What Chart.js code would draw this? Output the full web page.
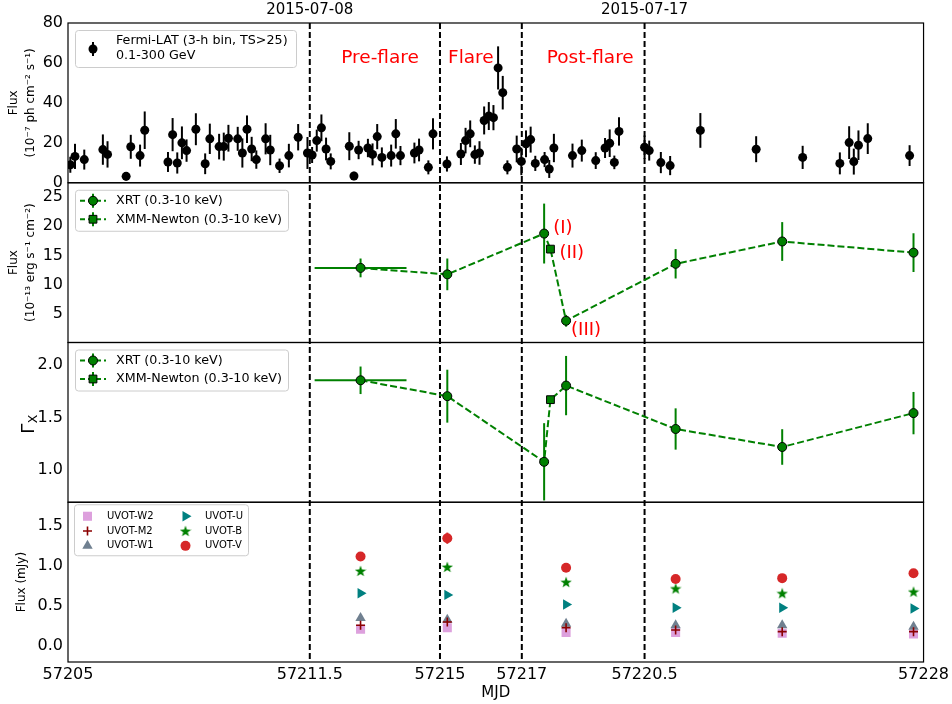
<!DOCTYPE html>
<html>
<head>
<meta charset="utf-8">
<title>Multi-band light curves</title>
<script src="https://cdn.jsdelivr.net/npm/chart.js@4.4.0/dist/chart.umd.min.js"></script>
<style>
  html, body { margin: 0; padding: 0; background: #fff; }
</style>
</head>
<body>
<canvas id="lc" width="952" height="704"></canvas>
<script>
// ---- Fermi-LAT 3-h binned light curve (1e-7 ph cm^-2 s^-1) ----
const fermiMjd = [
  57205.0625, 57205.1875, 57205.4375, 57205.9375, 57206.0625, 57206.5625, 57206.6875, 57206.9375,
  57207.0625, 57207.6875, 57207.8125, 57207.9375, 57208.0625, 57208.1875, 57208.4375, 57208.6875,
  57208.8125, 57209.0625, 57209.1875, 57209.3125, 57209.5625, 57209.6875, 57209.8125, 57209.9375,
  57210.0625, 57210.3125, 57210.4375, 57210.6875, 57210.9375, 57211.1875, 57211.4375, 57211.5625,
  57211.6875, 57211.8125, 57211.9375, 57212.0625, 57212.5625, 57212.6875, 57212.8125, 57213.0625,
  57213.1875, 57213.3125, 57213.4375, 57213.6875, 57213.8125, 57213.9375, 57214.3125, 57214.4375,
  57214.6875, 57214.8125, 57215.1875, 57215.5625, 57215.6875, 57215.8125, 57215.9375, 57216.0625,
  57216.1875, 57216.3125, 57216.4375, 57216.5625, 57216.6875, 57216.8125, 57217.0625, 57217.1875,
  57217.3125, 57217.4375, 57217.5625, 57217.8125, 57217.9375, 57218.0625, 57218.5625, 57218.8125,
  57219.1875, 57219.4375, 57219.5625, 57219.6875, 57219.8125, 57220.5, 57220.625, 57220.9375,
  57221.1875, 57222.0, 57223.5, 57224.75, 57225.75, 57226.0, 57226.125, 57226.25,
  57226.5, 57227.625
];
const fermiFlux = [
  9.0, 13.2, 11.6, 16.6, 14.2, 3.2, 18.0, 13.6,
  26.3, 10.4, 24.1, 9.9, 20.0, 16.1, 26.8, 9.5,
  22.0, 18.1, 18.1, 22.3, 22.0, 14.9, 26.8, 16.9,
  11.6, 22.0, 16.4, 8.5, 13.6, 22.8, 14.9, 13.9,
  21.1, 27.5, 16.9, 10.7, 18.3, 3.4, 16.4, 17.4,
  14.2, 23.1, 12.7, 13.6, 24.5, 13.6, 14.9, 16.4,
  7.7, 24.5, 9.4, 14.4, 21.1, 24.5, 14.1, 14.9,
  31.2, 33.4, 32.6, 57.5, 45.1, 7.7, 16.9, 10.7,
  19.5, 21.6, 9.7, 11.6, 6.9, 17.4, 13.6, 16.1,
  11.1, 17.4, 19.8, 10.2, 25.7, 17.8, 16.1, 10.1,
  8.6, 26.2, 16.8, 12.7, 9.7, 20.1, 10.6, 18.8,
  22.1, 13.6
];
const fermiErr = [
  4.0, 6.3, 5.0, 7.6, 6.6, 2.1, 6.0, 5.5,
  9.4, 5.0, 8.3, 5.3, 8.2, 5.6, 8.0, 5.2,
  7.6, 6.4, 7.0, 6.7, 6.0, 7.3, 6.9, 6.1,
  4.6, 7.8, 7.6, 3.6, 5.9, 6.6, 8.0, 4.0,
  5.5, 6.7, 5.7, 4.0, 7.0, 2.1, 4.6, 4.6,
  5.5, 6.3, 5.0, 5.5, 7.4, 4.8, 5.2, 5.7,
  3.5, 7.8, 3.8, 5.5, 6.4, 6.7, 4.6, 5.9,
  7.0, 7.0, 6.3, 10.8, 8.4, 3.5, 6.7, 6.9,
  6.7, 6.5, 3.8, 3.8, 4.5, 7.1, 6.0, 5.5,
  4.2, 5.0, 6.9, 3.4, 7.1, 5.9, 5.0, 5.3,
  4.8, 8.7, 6.5, 5.8, 5.5, 8.2, 6.5, 7.4,
  7.7, 5.2
];

// ---- Swift-XRT and XMM-Newton (0.3-10 keV) ----
const xrtMjd      = [57212.865, 57215.197, 57217.80, 57218.39, 57221.335, 57224.20, 57227.73];
const xrtMjdErr   = [1.235, 0, 0, 0, 0, 0, 0];
const xrtFlux     = [12.9, 11.8, 18.75, 3.9, 13.6, 17.4, 15.5];   // 1e-13 erg s^-1 cm^-2
const xrtFluxErr  = [1.6, 2.7, 5.1, 1.0, 2.5, 3.3, 3.3];
const xrtGamma    = [1.85, 1.70, 1.08, 1.80, 1.39, 1.22, 1.54];
const xrtGammaErr = [0.13, 0.25, 0.365, 0.28, 0.195, 0.168, 0.2];
const xmmMjd      = [57217.97];
const xmmFlux     = [16.1];
const xmmGamma    = [1.667];

// ---- Swift-UVOT (mJy) ----
const uvotMjd = [57212.865, 57215.197, 57218.39, 57221.335, 57224.20, 57227.73];
const uvotW2  = [0.21, 0.23, 0.17, 0.17, 0.16, 0.15];
const uvotM2  = [0.26, 0.30, 0.23, 0.20, 0.18, 0.18];
const uvotW1  = [0.35, 0.33, 0.28, 0.26, 0.26, 0.24];
const uvotU   = [0.66, 0.64, 0.52, 0.48, 0.48, 0.47];
const uvotB   = [0.94, 0.99, 0.80, 0.72, 0.66, 0.68];
const uvotV   = [1.12, 1.35, 0.98, 0.84, 0.85, 0.91];
const uvotVErr = [0.03, 0.07, 0.03, 0.02, 0.02, 0.02];

// ---- axes / phases ----
const phaseEdges = [57211.5, 57215, 57217.2, 57220.5];
const mjdTicks   = [57205, 57211.5, 57215, 57217.2, 57220.5, 57228];
const mjdLabels  = ['57205', '57211.5', '57215', '57217', '57220.5', '57228'];
const dateTicks  = [57211.5, 57220.5];
const dateLabels = ['2015-07-08', '2015-07-17'];
const phaseNames = ['Pre-flare', 'Flare', 'Post-flare'];
const phaseMid   = [57213.39, 57215.83, 57219.04];
const stateNames = ['(I)', '(II)', '(III)'];

const FONT = 'DejaVu Sans';
Chart.defaults.font.family = FONT;
Chart.defaults.color = '#000';

const pts = (xs, ys) => xs.map((x, i) => ({ x: x, y: ys[i] }));
const byTime = (a, b) => a.x - b.x;

// filled five-point star used for UVOT-B
function starMarker(size, color) {
  const c = document.createElement('canvas');
  c.width = c.height = size;
  const g = c.getContext('2d');
  g.fillStyle = color;
  g.beginPath();
  for (let k = 0; k < 10; k++) {
    const r = k % 2 ? size * 0.2 : size / 2;
    const a = -Math.PI / 2 + k * Math.PI / 5;
    g.lineTo(size / 2 + r * Math.cos(a), size / 2 + r * Math.sin(a) + size * 0.04);
  }
  g.closePath();
  g.fill();
  return c;
}
const starB = starMarker(12, '#008000');

function yAxis(min, max, ticks, digits, title, titleSize, titlePad) {
  return {
    type: 'linear', position: 'left', stack: 'panels', min: min, max: max,
    grid: { display: false, drawTicks: false },
    border: { display: false },
    ticks: { font: { size: 16 }, padding: 5, autoSkip: false, callback: v => v.toFixed(digits) },
    afterBuildTicks: s => { s.ticks = ticks.map(v => ({ value: v })); },
    afterFit: s => { s.width = 68; },
    title: { display: !!title, text: title, font: { size: titleSize, lineHeight: 1.4 }, padding: { top: titlePad, bottom: 0 } }
  };
}

// vertical phase boundaries
const phaseLines = {
  id: 'phaseLines',
  beforeDatasetsDraw(chart) {
    const { ctx, chartArea, scales } = chart;
    ctx.save();
    ctx.strokeStyle = '#000';
    ctx.lineWidth = 2;
    ctx.setLineDash([6, 3]);
    phaseEdges.forEach(m => {
      const px = scales.x.getPixelForValue(m);
      ctx.beginPath();
      ctx.moveTo(px, chartArea.top);
      ctx.lineTo(px, chartArea.bottom);
      ctx.stroke();
    });
    ctx.restore();
  }
};

// error bars from the errY / errX arrays on each dataset
const errorBars = {
  id: 'errorBars',
  beforeDatasetsDraw(chart) {
    const ctx = chart.ctx;
    const xs = chart.scales.x;
    chart.data.datasets.forEach(ds => {
      if (!ds.errY && !ds.errX) return;
      const ys = chart.scales[ds.yAxisID];
      ctx.save();
      ctx.strokeStyle = ds.errColor;
      ctx.lineWidth = 2;
      ds.data.forEach((p, j) => {
        const px = xs.getPixelForValue(p.x);
        const py = ys.getPixelForValue(p.y);
        if (ds.errY && ds.errY[j]) {
          ctx.beginPath();
          ctx.moveTo(px, ys.getPixelForValue(p.y - ds.errY[j]));
          ctx.lineTo(px, ys.getPixelForValue(p.y + ds.errY[j]));
          ctx.stroke();
        }
        if (ds.errX && ds.errX[j]) {
          ctx.beginPath();
          ctx.moveTo(xs.getPixelForValue(p.x - ds.errX[j]), py);
          ctx.lineTo(xs.getPixelForValue(p.x + ds.errX[j]), py);
          ctx.stroke();
        }
      });
      ctx.restore();
    });
  }
};

function legendBox(ctx, x, y, w, h) {
  ctx.save();
  ctx.beginPath();
  ctx.roundRect(x + 0.5, y + 0.5, w, h, 3);
  ctx.fillStyle = 'rgba(255,255,255,0.8)';
  ctx.fill();
  ctx.strokeStyle = '#cccccc';
  ctx.lineWidth = 1;
  ctx.stroke();
  ctx.restore();
}

function xrayHandle(ctx, x, y, style, radius) {
  ctx.save();
  ctx.strokeStyle = '#008000';
  ctx.lineWidth = 2;
  ctx.setLineDash([5, 3]);
  ctx.beginPath(); ctx.moveTo(x - 13, y); ctx.lineTo(x + 13, y); ctx.stroke();
  ctx.setLineDash([]);
  ctx.beginPath(); ctx.moveTo(x, y - 7); ctx.lineTo(x, y + 7); ctx.stroke();
  ctx.fillStyle = '#008000';
  ctx.strokeStyle = '#000';
  ctx.lineWidth = 1;
  Chart.helpers.drawPoint(ctx, { pointStyle: style, radius: radius, borderWidth: 1 }, x, y);
  ctx.restore();
}

// legends, frames and text labels on top of the data
const decorations = {
  id: 'decorations',
  afterDatasetsDraw(chart) {
    const { ctx, chartArea, scales } = chart;
    const L = chartArea.left;
    ctx.save();
    ctx.textBaseline = 'middle';
    ctx.textAlign = 'left';

    // Fermi legend
    let t = scales.yFermi.top;
    legendBox(ctx, L + 7, t + 7, 221, 37);
    ctx.strokeStyle = '#000'; ctx.lineWidth = 2;
    ctx.beginPath(); ctx.moveTo(L + 25, t + 19); ctx.lineTo(L + 25, t + 33); ctx.stroke();
    ctx.fillStyle = '#000';
    Chart.helpers.drawPoint(ctx, { pointStyle: 'circle', radius: 4.5, borderWidth: 0 }, L + 25, t + 26);
    ctx.font = '12.7px "' + FONT + '"';
    ctx.fillStyle = '#000';
    ctx.fillText('Fermi-LAT (3-h bin, TS>25)', L + 48, t + 18);
    ctx.fillText('0.1-300 GeV', L + 48, t + 33);

    // X-ray legends
    [scales.yXray.top, scales.yGamma.top].forEach(top => {
      legendBox(ctx, L + 7, top + 7, 213, 41);
      xrayHandle(ctx, L + 25, top + 18, 'circle', 4.5);
      xrayHandle(ctx, L + 25, top + 36.5, 'rect', 5.5);
      ctx.fillStyle = '#000';
      ctx.font = '12.7px "' + FONT + '"';
      ctx.fillText('XRT (0.3-10 keV)', L + 48, top + 18);
      ctx.fillText('XMM-Newton (0.3-10 keV)', L + 48, top + 36.5);
    });

    // UVOT legend (two columns)
    t = scales.yUv.top;
    legendBox(ctx, L + 6, t + 2, 174, 51);
    ctx.font = '10px "' + FONT + '"';
    const uv = chart.data.datasets.filter(d => d.uvot);
    uv.forEach((d, i) => {
      const col = Math.floor(i / 3), row = i % 3;
      const mx = L + 19.5 + col * 98, my = t + 14 + row * 14.8;
      ctx.save();
      ctx.fillStyle = d.backgroundColor;
      ctx.strokeStyle = d.borderColor;
      ctx.lineWidth = d.borderWidth;
      Chart.helpers.drawPoint(ctx, { pointStyle: d.pointStyle, radius: d.pointRadius, rotation: d.rotation || 0, borderWidth: d.borderWidth }, mx, my);
      ctx.restore();
      ctx.fillStyle = '#000';
      ctx.fillText(d.label, mx + 19.5, my);
    });

    // photon index axis title: Gamma with subscript X
    const g = scales.yGamma;
    ctx.save();
    ctx.translate(27, (g.top + g.bottom) / 2 + 2);
    ctx.rotate(-Math.PI / 2);
    ctx.fillStyle = '#000';
    ctx.textBaseline = 'alphabetic';
    ctx.font = '18px "' + FONT + '"';
    const wG = ctx.measureText('Γ').width;
    ctx.font = '12.5px "' + FONT + '"';
    const wX = ctx.measureText('X').width;
    const x0 = -(wG + wX) / 2;
    ctx.font = '18px "' + FONT + '"';
    ctx.fillText('Γ', x0, 6.5);
    ctx.font = '12.5px "' + FONT + '"';
    ctx.fillText('X', x0 + wG + 0.5, 9.5);
    ctx.restore();

    // panel frames
    ctx.strokeStyle = '#000';
    ctx.lineWidth = 1.2;
    ['yFermi', 'yXray', 'yGamma', 'yUv'].forEach(id => {
      const s = scales[id];
      ctx.strokeRect(L, s.top, chartArea.width, s.bottom - s.top);
    });

    // phase names
    ctx.fillStyle = '#ff0000';
    ctx.textAlign = 'center';
    ctx.font = '18.5px "' + FONT + '"';
    phaseNames.forEach((n, i) => {
      ctx.fillText(n, scales.x.getPixelForValue(phaseMid[i]), scales.yFermi.getPixelForValue(62.4));
    });

    // X-ray states I / II / III
    ctx.textAlign = 'left';
    ctx.font = '18px "' + FONT + '"';
    const sx = [xrtMjd[2], xmmMjd[0], xrtMjd[3]];
    const sy = [xrtFlux[2], xmmFlux[0], xrtFlux[3]];
    const dx = [9, 9, 5], dy = [-5, 4, 10];
    stateNames.forEach((n, i) => {
      ctx.fillText(n, scales.x.getPixelForValue(sx[i]) + dx[i], scales.yXray.getPixelForValue(sy[i]) + dy[i]);
    });
    ctx.restore();
  }
};

const xrayLine = pts(xrtMjd, xrtFlux).concat(pts(xmmMjd, xmmFlux)).sort(byTime);
const gammaLine = pts(xrtMjd, xrtGamma).concat(pts(xmmMjd, xmmGamma)).sort(byTime);

const uvotSet = (label, values, style) => Object.assign({
  label: label, uvot: true, yAxisID: 'yUv', data: pts(uvotMjd, values), borderWidth: 0
}, style);

new Chart(document.getElementById('lc'), {
  type: 'scatter',
  data: {
    datasets: [
      { label: 'Fermi-LAT', yAxisID: 'yFermi', data: pts(fermiMjd, fermiFlux), errY: fermiErr, errColor: '#000',
        pointStyle: 'circle', pointRadius: 4.5, backgroundColor: '#000', borderWidth: 0 },

      { label: 'xray-line', yAxisID: 'yXray', data: xrayLine, showLine: true, pointRadius: 0,
        borderColor: '#008000', borderWidth: 2, borderDash: [7, 3], order: 10 },
      { label: 'XRT', yAxisID: 'yXray', data: pts(xrtMjd, xrtFlux), errY: xrtFluxErr, errX: xrtMjdErr, errColor: '#008000',
        pointStyle: 'circle', pointRadius: 4.5, backgroundColor: '#008000', borderColor: '#000', borderWidth: 1 },
      { label: 'XMM-Newton', yAxisID: 'yXray', data: pts(xmmMjd, xmmFlux),
        pointStyle: 'rect', pointRadius: 5.5, backgroundColor: '#008000', borderColor: '#000', borderWidth: 1 },

      { label: 'gamma-line', yAxisID: 'yGamma', data: gammaLine, showLine: true, pointRadius: 0,
        borderColor: '#008000', borderWidth: 2, borderDash: [7, 3], order: 10 },
      { label: 'XRT', yAxisID: 'yGamma', data: pts(xrtMjd, xrtGamma), errY: xrtGammaErr, errX: xrtMjdErr, errColor: '#008000',
        pointStyle: 'circle', pointRadius: 4.5, backgroundColor: '#008000', borderColor: '#000', borderWidth: 1 },
      { label: 'XMM-Newton', yAxisID: 'yGamma', data: pts(xmmMjd, xmmGamma),
        pointStyle: 'rect', pointRadius: 5.5, backgroundColor: '#008000', borderColor: '#000', borderWidth: 1 },

      uvotSet('UVOT-W2', uvotW2, { pointStyle: 'rect', pointRadius: 6.4, backgroundColor: '#dda0dd', borderColor: '#dda0dd', order: 6 }),
      uvotSet('UVOT-M2', uvotM2, { pointStyle: 'cross', pointRadius: 4.5, backgroundColor: '#8b0000', borderColor: '#8b0000', borderWidth: 1.6, order: 5 }),
      uvotSet('UVOT-W1', uvotW1, { pointStyle: 'triangle', pointRadius: 6, backgroundColor: '#708090', borderColor: '#708090', order: 5.5 }),
      uvotSet('UVOT-U', uvotU, { pointStyle: 'triangle', rotation: 90, pointRadius: 6, backgroundColor: '#008080', borderColor: '#008080', order: 3 }),
      uvotSet('UVOT-B', uvotB, { pointStyle: starB, pointRadius: 6, backgroundColor: '#008000', borderColor: '#008000', order: 2 }),
      uvotSet('UVOT-V', uvotV, { pointStyle: 'circle', pointRadius: 5, backgroundColor: '#d62728', borderColor: '#d62728',
        errY: uvotVErr, errColor: '#d62728', order: 1 })
    ]
  },
  options: {
    responsive: false,
    animation: false,
    events: [],
    layout: { padding: { left: 0, right: 28, top: 0, bottom: 0 } },
    plugins: { legend: { display: false }, tooltip: { enabled: false } },
    scales: {
      x: {
        type: 'linear', position: 'bottom', min: 57205, max: 57228,
        grid: { display: false, drawTicks: false }, border: { display: false },
        ticks: { font: { size: 16 }, padding: 3, maxRotation: 0, autoSkip: false,
                 callback: v => mjdLabels[mjdTicks.indexOf(v)] },
        afterBuildTicks: s => { s.ticks = mjdTicks.map(v => ({ value: v })); },
        afterFit: s => { s.height = 42; },
        title: { display: true, text: 'MJD', font: { size: 15 }, padding: { top: 0, bottom: 2 } }
      },
      xTop: {
        type: 'linear', position: 'top', min: 57205, max: 57228,
        grid: { display: false, drawTicks: false }, border: { display: false },
        ticks: { font: { size: 15 }, padding: 4, maxRotation: 0, autoSkip: false,
                 callback: v => dateLabels[dateTicks.indexOf(v)] },
        afterBuildTicks: s => { s.ticks = dateTicks.map(v => ({ value: v })); },
        afterFit: s => { s.height = 23; }
      },
      yUv: yAxis(-0.2, 1.8, [0, 0.5, 1.0, 1.5], 1, 'Flux (mJy)', 12, 13.6),
      yGamma: yAxis(0.698, 2.207, [1.0, 1.5, 2.0], 1, null, 17, 16),
      yXray: yAxis(0.2, 27.4, [5, 10, 15, 20, 25], 0, ['Flux', '(10⁻¹³ erg s⁻¹ cm⁻²)'], 12, 5.5),
      yFermi: yAxis(0, 80, [0, 20, 40, 60, 80], 0, ['Flux', '(10⁻⁷ ph cm⁻² s⁻¹)'], 12, 5.5)
    }
  },
  plugins: [phaseLines, errorBars, decorations]
});
</script>
</body>
</html>
